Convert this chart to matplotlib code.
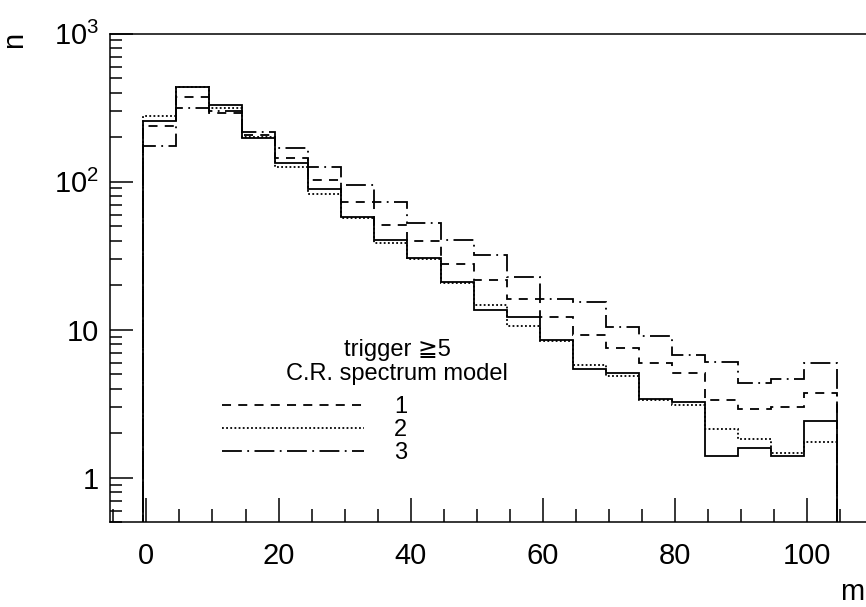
import numpy as np
import matplotlib
matplotlib.use("Agg")
import matplotlib.pyplot as plt
from matplotlib.lines import Line2D
from matplotlib.ticker import FixedLocator, FixedFormatter, NullFormatter

plt.rcParams['font.family'] = ['Liberation Sans', 'DejaVu Sans']
plt.rcParams['mathtext.fontset'] = 'custom'
plt.rcParams['mathtext.rm'] = 'Liberation Sans'
plt.rcParams['mathtext.it'] = 'Liberation Sans'
plt.rcParams['mathtext.bf'] = 'Liberation Sans'

# ---- data -------------------------------------------------------------
bin_edges = np.arange(-0.5, 105.0, 5.0)          # 21 bins of width 5 (m = 0 ... 104)
solid   = [258, 434, 330, 196, 133, 88.9, 58, 40.4, 30.4, 20.9, 13.6, 12.2,
           8.5, 5.4, 5.07, 3.39, 3.26, 1.40, 1.60, 1.40, 2.42]
model1  = [238, 372, 293, 207, 145, 103, 73.3, 51, 40, 27.8, 21.7, 16.1,
           12.2, 9.2, 7.5, 6.0, 5.07, 3.35, 2.90, 2.99, 3.75]        # dashed
model2  = [279, 438, 313, 201, 126, 82.2, 57, 38.7, 30, 20.7, 14.7, 10.6,
           8.4, 5.77, 4.87, 3.35, 3.10, 2.12, 1.83, 1.46, 1.74]       # dotted
model3  = [174, 316, 302, 218, 168, 126, 95, 72.6, 52.8, 40.4, 32.1, 22.6,
           16.1, 15.3, 10.5, 9.07, 6.75, 6.02, 4.38, 4.64, 5.93]       # dash-dot
legend_labels = ['1', '2', '3']
title_lines = ['trigger \u22675', 'C.R. spectrum model']
x_major = [0, 20, 40, 60, 80, 100]
x_minor = [-5, 5, 10, 15, 25, 30, 35, 45, 50, 55, 65, 70, 75, 85, 90, 95, 105, 110]
y_major = [1, 10, 100, 1000]
y_major_labels = ['1', '10', r'$10^{2}$', r'$10^{3}$']

# ---- figure -----------------------------------------------------------
W, H = 866, 607
fig = plt.figure(figsize=(W / 100, H / 100), dpi=100)
ax = fig.add_axes([110 / W, 84.7 / H, 763.5 / W, 488.6 / H])
ax.set_yscale('log')
ax.set_xlim(-5.5, 110)
ax.set_ylim(0.5, 1000)

lw = 1.3
styles = {
    'solid': dict(linestyle='-'),
    'm1': dict(linestyle=(0, (5, 4))),
    'm2': dict(linestyle=(0, (1.0, 1.3))),
    'm3': dict(linestyle=(0, (11, 3, 1.0, 3))),
}
ax.stairs(solid, bin_edges, baseline=0.01, color='black', lw=lw, **styles['solid'])
ax.stairs(model1, bin_edges, baseline=0.01, color='black', lw=lw, **styles['m1'])
ax.stairs(model2, bin_edges, baseline=0.01, color='black', lw=lw, **styles['m2'])
ax.stairs(model3, bin_edges, baseline=0.01, color='black', lw=lw, **styles['m3'])

# ---- axes styling -------------------------------------------------------
for s in ax.spines.values():
    s.set_linewidth(1.1)

ax.xaxis.set_major_locator(FixedLocator(x_major))
ax.xaxis.set_major_formatter(FixedFormatter([str(v) for v in x_major]))
ax.xaxis.set_minor_locator(FixedLocator(x_minor))
ax.yaxis.set_major_locator(FixedLocator(y_major))
ax.yaxis.set_major_formatter(FixedFormatter(y_major_labels))
y_minor = [k * 10.0 ** e for e in range(-1, 3) for k in range(2, 10)]
ax.yaxis.set_minor_locator(FixedLocator(y_minor))
ax.yaxis.set_minor_formatter(NullFormatter())

ax.tick_params(axis='x', which='major', direction='in', length=17, width=1.1,
               labelsize=21, pad=14, top=False)
ax.tick_params(axis='x', which='minor', direction='in', length=9.3, width=1.1, top=False)
ax.tick_params(axis='y', which='major', direction='in', length=16.5, width=1.1,
               labelsize=21, pad=8, right=False)
ax.tick_params(axis='y', which='minor', direction='in', length=8.6, width=1.1, right=False)

# axis titles (ROOT style, at the ends of the axes)
fig.text(14 / W, 1 - 40 / H, 'n', rotation=90, fontsize=21, ha='center', va='center')
fig.text(864 / W, 1 - 606 / H, 'm', fontsize=21, ha='right', va='bottom')

# ---- legend -------------------------------------------------------------
handles = [Line2D([], [], color='black', lw=lw, **styles[k]) for k in ('m1', 'm2', 'm3')]
ax.legend(handles, legend_labels, loc='upper left', bbox_to_anchor=(0.1467, 0.2577),
          frameon=False, fontsize=17, handlelength=6.0, handletextpad=1.3,
          labelspacing=0.03, borderpad=0, borderaxespad=0)
ax.text(0.376, 0.3404, title_lines[0], transform=ax.transAxes, ha='center',
        va='baseline', fontsize=17)
ax.text(0.376, 0.2913, title_lines[1], transform=ax.transAxes, ha='center',
        va='baseline', fontsize=17)

fig.savefig('out.png', dpi=100)
